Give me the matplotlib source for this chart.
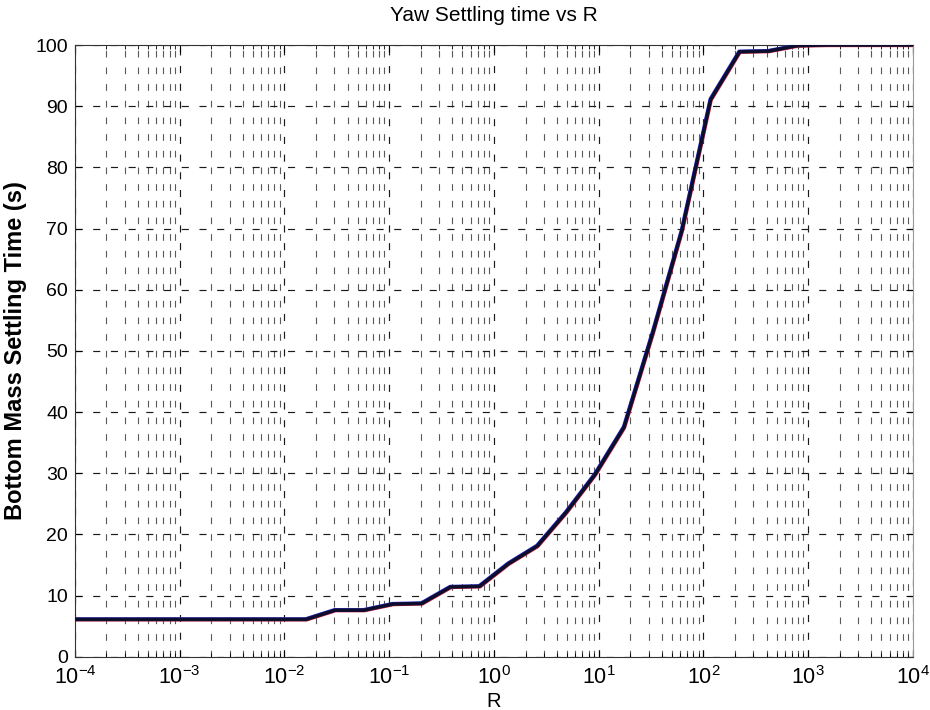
import numpy as np
import matplotlib
matplotlib.use('Agg')
import matplotlib.pyplot as plt
import matplotlib.transforms as mtransforms
from matplotlib.ticker import LogLocator, FixedLocator, NullFormatter

plt.rcParams['font.family'] = ['Liberation Sans', 'DejaVu Sans']
plt.rcParams['mathtext.fontset'] = 'custom'
plt.rcParams['mathtext.rm'] = 'Liberation Sans'
plt.rcParams['mathtext.it'] = 'Liberation Sans'
plt.rcParams['mathtext.default'] = 'regular'

# %% Settling time of the bottom mass (yaw) swept over the weight R

R = [1.0e-4, 1.887e-4, 3.562e-4, 6.723e-4, 1.269e-3, 2.395e-3, 4.520e-3,
     8.532e-3, 1.610e-2, 3.039e-2, 5.736e-2, 0.1083, 0.2043, 0.3857,
     0.7279, 1.374, 2.593, 4.894, 9.237, 17.43, 32.90, 62.10, 117.2,
     221.2, 417.5, 788.0, 1487.0, 2807.0, 5298.0, 1.0e4]

settling_time = [6.1, 6.1, 6.1, 6.1, 6.1, 6.1, 6.1,
                 6.1, 6.1, 7.6, 7.6, 8.6, 8.7, 11.4,
                 11.5, 15.2, 18.1, 23.6, 29.8, 37.5, 53.0, 69.6, 91.1,
                 98.9, 99.0, 99.9, 100.0, 100.0, 100.0, 100.0]

y_ticks = list(range(0, 101, 10))
x_ticks = [1e-4, 1e-3, 1e-2, 1e-1, 1e0, 1e1, 1e2, 1e3, 1e4]
x_ticklabels = [r'$10^{-4}$', r'$10^{-3}$', r'$10^{-2}$', r'$10^{-1}$',
                r'$10^{0}$', r'$10^{1}$', r'$10^{2}$', r'$10^{3}$', r'$10^{4}$']

fig = plt.figure(figsize=(9.3, 7.1), dpi=100)
ax = fig.add_axes([0.0806, 0.0751, 0.9011, 0.8615])

# scanned print: slight blue/red fringes on both sides of the curve
off_blue = mtransforms.offset_copy(ax.transData, fig=fig, x=-0.45, y=0.45, units='points')
off_red = mtransforms.offset_copy(ax.transData, fig=fig, x=0.45, y=-0.45, units='points')
ax.plot(R, settling_time, color='#2a2ad0', lw=2.2, transform=off_blue, zorder=3)
ax.plot(R, settling_time, color='#c02040', lw=2.2, transform=off_red, zorder=3)
ax.plot(R, settling_time, color='#0d0d2e', lw=2.5, zorder=4)

ax.set_xscale('log')
ax.set_xlim(1e-4, 1e4)
ax.set_ylim(0, 100)

ax.xaxis.set_major_locator(FixedLocator(x_ticks))
ax.set_xticklabels(x_ticklabels)
ax.xaxis.set_minor_locator(LogLocator(base=10, subs=np.arange(2, 10), numticks=100))
ax.xaxis.set_minor_formatter(NullFormatter())
ax.set_yticks(y_ticks)

dash = (0, (6, 9))
ax.grid(True, which='major', axis='both', color='0.1', lw=0.85, linestyle=dash)
ax.grid(True, which='minor', axis='x', color='0.35', lw=0.8, linestyle=dash)

ax.tick_params(which='both', direction='in', top=True, right=True, colors='black')
ax.tick_params(which='major', length=5, width=0.8)
ax.tick_params(which='minor', length=3, width=0.6)
ax.tick_params(axis='y', labelsize=14, pad=5)
ax.tick_params(axis='x', labelsize=15.5, pad=7)

for s in ax.spines.values():
    s.set_linewidth(0.8)
    s.set_color('0.2')
ax.spines['right'].set_color('0.6')

ax.set_title('Yaw Settling time vs R', fontsize=15, pad=17)
ax.set_xlabel('R', fontsize=14.5)
ax.xaxis.set_label_coords(0.5, -0.058)
ax.set_ylabel('Bottom Mass Settling Time (s)', fontsize=17, fontweight='bold',
              labelpad=6)

fig.savefig('out.png', dpi=100, facecolor='white')
